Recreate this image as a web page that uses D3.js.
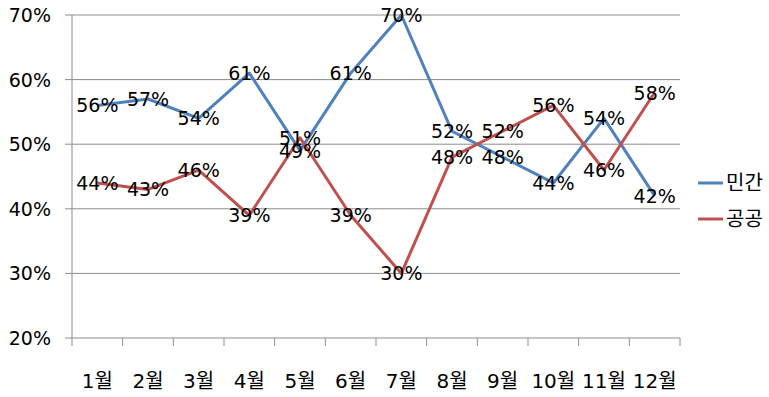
<!DOCTYPE html>
<html>
<head>
<meta charset="utf-8">
<script src="https://cdn.jsdelivr.net/npm/d3@7"></script>
<style>
  body { margin: 0; background: #fff; }
  svg text { font-family: "DejaVu Sans", "Noto Sans CJK KR", sans-serif; fill: #000; }
</style>
</head>
<body>
<div id="chart"></div>
<script>
const width = 769, height = 397;

const months = ["1월", "2월", "3월", "4월", "5월", "6월", "7월", "8월", "9월", "10월", "11월", "12월"];
const privateVals = [56, 57, 54, 61, 49, 61, 70, 52, 48, 44, 54, 42];
const publicVals = [44, 43, 46, 39, 51, 39, 30, 48, 52, 56, 46, 58];
const yTicks = [20, 30, 40, 50, 60, 70];

const series = [
  { name: "민간", values: privateVals, color: "#4F81BD" },
  { name: "공공", values: publicVals, color: "#C0504D" }
];

const svg = d3.select("#chart").append("svg")
  .attr("width", width)
  .attr("height", height);

const x = d3.scaleBand().domain(months).range([72, 680]);
const y = d3.scaleLinear().domain([20, 70]).range([338, 15]);

// gridlines
svg.append("g")
  .selectAll("line")
  .data(yTicks)
  .enter().append("line")
  .attr("x1", 65).attr("x2", 680)
  .attr("y1", d => y(d)).attr("y2", d => y(d))
  .attr("stroke", "#8c8c8c").attr("stroke-width", 1);

// y axis line
svg.append("line")
  .attr("x1", 72).attr("x2", 72)
  .attr("y1", y(70)).attr("y2", y(20))
  .attr("stroke", "#8c8c8c");

// x axis ticks
const xTickPos = months.map(m => x(m)).concat([x.range()[1]]);
svg.append("g")
  .selectAll("line")
  .data(xTickPos)
  .enter().append("line")
  .attr("x1", d => d).attr("x2", d => d)
  .attr("y1", y(20)).attr("y2", y(20) + 8)
  .attr("stroke", "#8c8c8c");

// y labels
svg.append("g")
  .selectAll("text")
  .data(yTicks)
  .enter().append("text")
  .attr("x", 51)
  .attr("y", d => y(d))
  .attr("text-anchor", "end")
  .attr("dominant-baseline", "central")
  .attr("font-size", "19px")
  .text(d => d + "%");

// x labels
svg.append("g")
  .selectAll("text")
  .data(months)
  .enter().append("text")
  .attr("x", d => x(d) + x.bandwidth() / 2)
  .attr("y", 381)
  .attr("text-anchor", "middle")
  .attr("dominant-baseline", "central")
  .attr("font-size", "20px")
  .text(d => d);

const line = d3.line()
  .x((d, i) => x(months[i]) + x.bandwidth() / 2)
  .y(d => y(d));

series.forEach(s => {
  svg.append("path")
    .datum(s.values)
    .attr("fill", "none")
    .attr("stroke", s.color)
    .attr("stroke-width", 3)
    .attr("stroke-linejoin", "round")
    .attr("d", line);
});

// data labels on top
series.forEach(s => {
  svg.append("g")
    .selectAll("text")
    .data(s.values)
    .enter().append("text")
    .attr("x", (d, i) => x(months[i]) + x.bandwidth() / 2)
    .attr("y", d => y(d))
    .attr("text-anchor", "middle")
    .attr("dominant-baseline", "central")
    .attr("font-size", "19px")
    .text(d => d + "%");
});

// legend
const legend = svg.append("g");
series.forEach((s, i) => {
  const ly = 183 + i * 36;
  legend.append("line")
    .attr("x1", 698).attr("x2", 723)
    .attr("y1", ly).attr("y2", ly)
    .attr("stroke", s.color).attr("stroke-width", 3);
  legend.append("text")
    .attr("x", 726).attr("y", ly)
    .attr("dominant-baseline", "central")
    .attr("font-size", "20px")
    .text(s.name);
});
</script>
</body>
</html>
